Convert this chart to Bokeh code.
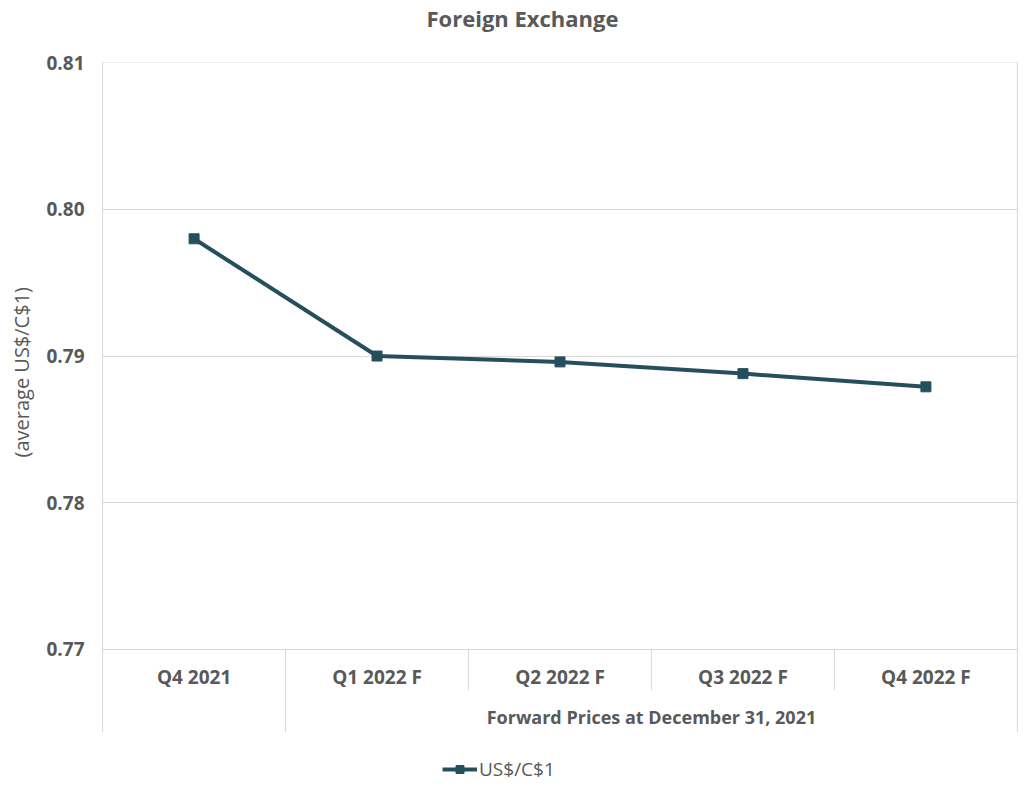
from bokeh.plotting import figure
from bokeh.models import (Range1d, FixedTicker, NumeralTickFormatter, ColumnDataSource, Legend,
                          LegendItem, Title)
from bokeh.embed import file_html
from bokeh.resources import INLINE
from bokeh.core.properties import value

# ---- data ----
categories = ["Q4 2021", "Q1 2022 F", "Q2 2022 F", "Q3 2022 F", "Q4 2022 F"]
rates = [0.7980, 0.7900, 0.7896, 0.7888, 0.7879]
group_labels = ["", "Forward Prices at December 31, 2021"]
group_sizes = [1, 4]
y_ticks = [0.77, 0.78, 0.79, 0.80, 0.81]
series_name = "US$/C$1"
title_text = "Foreign Exchange"
y_label = "(average US$/C$1)"

# ---- style ----
TEXT = "#595959"
LINE = "#264f5e"
GRID = "#d9d9d9"
FONT = "Open Sans"

n = len(categories)
xs = [i + 0.5 for i in range(n)]

Y_TOP = 0.81003
Y_BOTTOM = 0.760694
axis_base = y_ticks[0]
tick_row_y = 0.768092
group_row_y = 0.765366
tick_bottom = 0.767206
group_bottom = 0.764344

p = figure(width=1024, height=785, output_backend="svg", toolbar_location=None,
           x_range=Range1d(-0.006, n + 0.006), y_range=Range1d(Y_BOTTOM, Y_TOP),
           min_border_left=101, min_border_right=6, min_border_top=61, min_border_bottom=0,
           x_axis_location=None)
p.outline_line_color = None
p.background_fill_color = "white"
p.border_fill_color = "white"

# title (outermost) with a blank spacer between it and the plot area
p.title.text = title_text
p.title.align = "left"
p.title.offset = 325
p.title.text_font = FONT
p.title.text_font_size = "22px"
p.title.text_font_style = "bold"
p.title.text_color = TEXT
p.title.vertical_align = "bottom"
p.title.standoff = 0
p.add_layout(Title(text=" ", text_font=FONT, text_font_size="18px", standoff=4), "above")

# grid
p.xgrid.visible = False
p.ygrid.ticker = FixedTicker(ticks=y_ticks)
p.ygrid.grid_line_color = GRID
p.ygrid.grid_line_width = 1

# y axis
ya = p.yaxis[0]
ya.ticker = FixedTicker(ticks=y_ticks)
ya.formatter = NumeralTickFormatter(format="0.00")
ya.axis_line_color = None
ya.major_tick_line_color = None
ya.minor_tick_line_color = None
ya.major_tick_out = 0
ya.major_tick_in = 0
ya.major_label_standoff = 17
ya.major_label_text_font = FONT
ya.major_label_text_font_size = "19px"
ya.major_label_text_font_style = "bold"
ya.major_label_text_color = TEXT

# y axis title, placed along the value area
p.add_layout(Title(text=y_label, align="left", offset=328, vertical_align="top", standoff=14,
                   text_font=FONT, text_font_size="20px", text_font_style="normal",
                   text_color=TEXT), "left")

# category separators (first level)
tick_x = list(range(1, n))
p.segment(x0=tick_x, y0=[axis_base] * len(tick_x), x1=tick_x, y1=[tick_bottom] * len(tick_x),
          line_color=GRID, line_width=1)

# group separators and frame sides
bounds = [0]
for s in group_sizes:
    bounds.append(bounds[-1] + s)
gy0 = [y_ticks[-1] if b in (0, n) else axis_base for b in bounds]
p.segment(x0=bounds, y0=gy0, x1=bounds, y1=[group_bottom] * len(bounds),
          line_color=GRID, line_width=1)

# category labels
p.text(x=xs, y=[tick_row_y] * n, text=categories, text_align="center", text_baseline="middle",
       text_font=value(FONT), text_font_size="19px", text_font_style="bold", text_color=TEXT)

# group labels
gx = [(bounds[i] + bounds[i + 1]) / 2 for i in range(len(group_sizes))]
p.text(x=gx, y=[group_row_y] * len(gx), text=group_labels, text_align="center", text_baseline="middle",
       text_font=value(FONT), text_font_size="18px", text_font_style="bold", text_color=TEXT)

# series
src = ColumnDataSource(dict(x=xs, y=rates))
r_line = p.line("x", "y", source=src, line_color=LINE, line_width=4)
r_pts = p.scatter("x", "y", source=src, marker="square", size=10, fill_color=LINE, line_color=LINE)

legend = Legend(items=[LegendItem(label=series_name, renderers=[r_line, r_pts])],
                location=(341, 3), orientation="horizontal",
                border_line_color=None, background_fill_alpha=0,
                padding=0, margin=0, spacing=0,
                glyph_width=35, glyph_height=20, label_height=20, label_standoff=2,
                label_text_font=FONT, label_text_font_size="19px", label_text_color=TEXT)
p.add_layout(legend)

open("out.html", "w").write(file_html(p, INLINE))
